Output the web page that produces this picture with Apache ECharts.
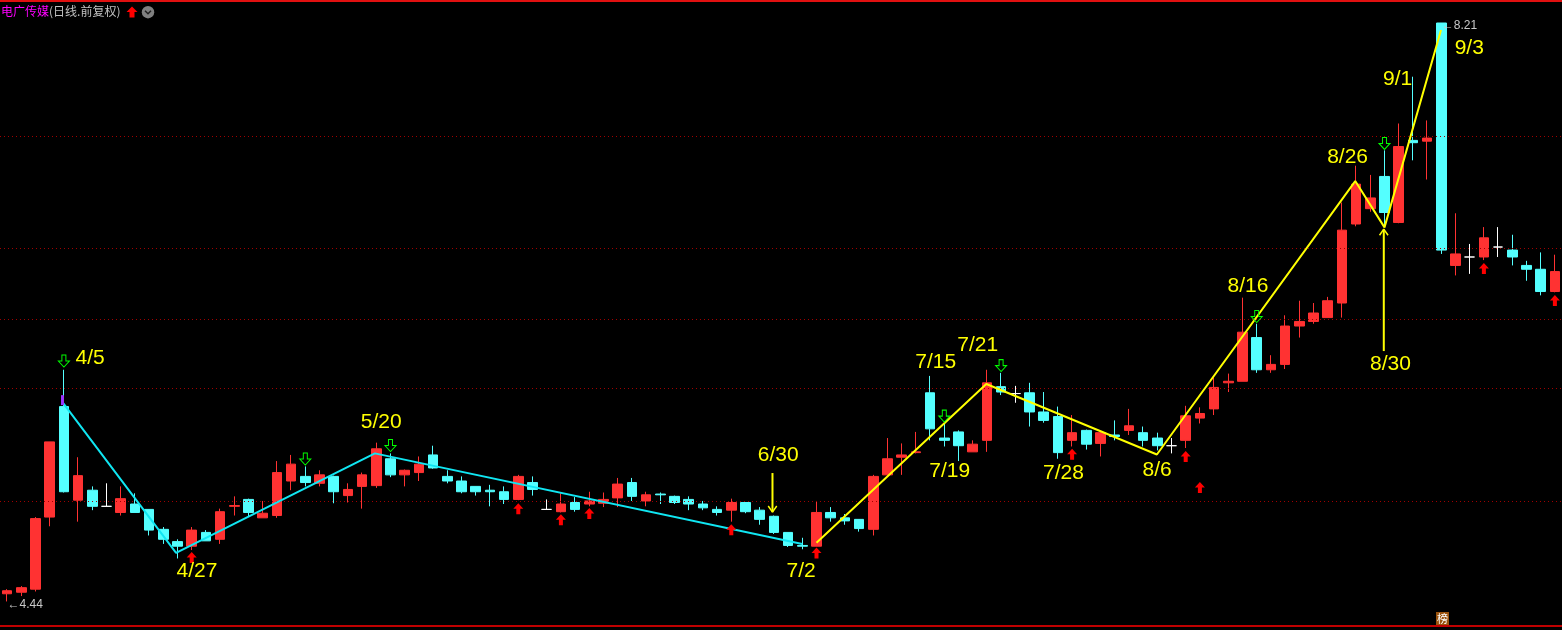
<!DOCTYPE html>
<html><head><meta charset="utf-8">
<script src="https://cdn.jsdelivr.net/npm/echarts@6/dist/echarts.min.js"></script>
<style>html,body{margin:0;padding:0;background:#000;overflow:hidden}#c{width:1562px;height:630px}</style>
</head><body><div id="c"></div>
<script>
// ---- data ----
const categories = ['04-09','04-12','04-13','04-14','04-15','04-16','04-19','04-20','04-21','04-22','04-23','04-26','04-27','04-28','04-29','04-30',
'05-06','05-07','05-10','05-11','05-12','05-13','05-14','05-17','05-18','05-19','05-20','05-21','05-24','05-25','05-26','05-27','05-28','05-31',
'06-01','06-02','06-03','06-04','06-07','06-08','06-09','06-10','06-11','06-15','06-16','06-17','06-18','06-21','06-22','06-23','06-24','06-25','06-28','06-29','06-30',
'07-01','07-02','07-05','07-06','07-07','07-08','07-09','07-12','07-13','07-14','07-15','07-16','07-19','07-20','07-21','07-22','07-23','07-26','07-27','07-28','07-29','07-30',
'08-02','08-03','08-04','08-05','08-06','08-09','08-10','08-11','08-12','08-13','08-16','08-17','08-18','08-19','08-20','08-23','08-24','08-25','08-26','08-27','08-30','08-31',
'09-01','09-02','09-03','09-06','09-07','09-08','09-09','09-10','09-13','09-14','09-15'];

const openP = [4.49,4.50,4.52,4.99,5.71,5.10,5.165,5.06,5.02,5.075,5.04,4.91,4.83,4.80,4.89,4.845,5.06,5.105,4.985,5.00,
5.225,5.255,5.21,5.255,5.13,5.19,5.195,5.37,5.265,5.28,5.395,5.255,5.225,5.19,5.165,5.155,5.105,5.215,5.04,5.025,
5.085,5.075,5.08,5.115,5.215,5.095,5.14,5.125,5.105,5.075,5.04,5.035,5.085,5.035,4.995,4.89,4.805,4.80,5.02,4.985,
4.975,4.91,5.265,5.38,5.41,5.80,5.505,5.545,5.415,5.49,5.84,5.795,5.80,5.675,5.645,5.49,5.555,5.47,5.525,5.555,
5.54,5.505,5.455,5.49,5.635,5.695,5.865,5.875,6.16,5.95,5.985,6.235,6.265,6.29,6.385,6.90,7.00,7.21,6.91,7.445,
7.44,8.21,6.63,6.685,6.685,6.75,6.73,6.63,6.605,6.46];
const closeP = [4.51,4.53,4.98,5.48,5.155,5.26,5.06,5.06,5.11,5.02,4.905,4.845,4.80,4.905,4.835,5.025,5.065,5.02,5.015,5.28,
5.335,5.215,5.265,5.155,5.17,5.265,5.435,5.265,5.295,5.335,5.31,5.225,5.155,5.155,5.155,5.105,5.255,5.17,5.04,5.075,
5.04,5.095,5.105,5.205,5.125,5.135,5.135,5.085,5.075,5.05,5.02,5.085,5.025,4.975,4.89,4.805,4.80,5.02,4.985,4.965,
4.915,5.255,5.37,5.395,5.415,5.565,5.49,5.455,5.465,5.865,5.805,5.795,5.675,5.62,5.41,5.54,5.465,5.54,5.515,5.585,
5.49,5.455,5.455,5.65,5.665,5.835,5.875,6.195,5.95,5.985,6.235,6.265,6.32,6.40,6.86,7.16,7.07,6.975,7.405,7.43,
7.46,6.73,6.705,6.685,6.81,6.75,6.685,6.605,6.46,6.59];
const lowP = [4.44,4.475,4.505,4.93,5.15,4.96,5.035,5.06,5.00,5.02,4.87,4.815,4.72,4.775,4.835,4.815,5.00,4.99,4.985,4.985,
5.165,5.19,5.19,5.08,5.085,5.045,5.18,5.25,5.19,5.225,5.305,5.21,5.145,5.13,5.06,5.075,5.10,5.13,5.04,5.02,
5.025,5.06,5.055,5.055,5.095,5.06,5.075,5.075,5.035,5.035,5.00,4.96,5.015,4.94,4.88,4.795,4.78,4.80,4.96,4.94,
4.895,4.87,5.26,5.265,5.405,5.49,5.45,5.355,5.415,5.415,5.785,5.735,5.58,5.605,5.37,5.45,5.43,5.385,5.49,5.525,
5.45,5.425,5.405,5.44,5.60,5.655,5.805,5.875,5.93,5.93,5.955,6.16,6.25,6.29,6.29,6.885,6.98,6.88,6.905,7.315,
7.19,6.705,6.565,6.575,6.665,6.685,6.63,6.53,6.435,6.455];
const highP = [4.52,4.54,4.99,5.48,5.95,5.38,5.19,5.21,5.19,5.145,5.04,4.925,4.845,4.925,4.905,5.045,5.125,5.11,5.095,5.355,
5.395,5.32,5.295,5.26,5.21,5.28,5.475,5.405,5.30,5.385,5.455,5.295,5.255,5.19,5.20,5.19,5.265,5.255,5.105,5.145,
5.12,5.155,5.15,5.245,5.245,5.155,5.15,5.13,5.125,5.095,5.06,5.11,5.085,5.055,5.00,4.89,4.855,5.095,5.055,5.01,
4.975,5.265,5.505,5.47,5.545,5.91,5.60,5.555,5.49,5.95,5.93,5.845,5.865,5.805,5.71,5.655,5.56,5.545,5.62,5.695,
5.58,5.54,5.505,5.715,5.705,5.90,5.925,6.42,6.25,6.045,6.305,6.40,6.385,6.425,7.04,7.28,7.22,7.38,7.555,7.86,
7.575,8.21,6.97,6.77,6.88,6.88,6.83,6.66,6.715,6.70];

// zigzag lines (bar position, price)
const cyanZigX = [3.95, 11.9, 25.9, 56];
const cyanZigY = [5.733, 4.757, 5.405, 4.814];
const yellowZigX = [57, 68.96, 80.97, 94.94, 97.0, 100.98];
const yellowZigY = [4.822, 5.857, 5.398, 7.18, 6.878, 8.164];

// date annotations
const dateText = ['4/5','4/27','5/20','6/30','7/2','7/15','7/19','7/21','7/28','8/6','8/16','8/26','8/30','9/1','9/3'];
const dateX = [5.85, 13.37, 26.35, 54.3, 55.92, 65.4, 66.38, 68.35, 74.39, 80.99, 87.38, 94.4, 97.42, 97.92, 102.97];
const dateY = [6.026, 4.638, 5.609, 5.394, 4.638, 6.0, 5.29, 6.111, 5.277, 5.296, 6.496, 7.337, 5.987, 7.845, 8.047];

// signal arrows
const greenArrowX = [4, 21, 27, 66, 70, 88, 97];
const greenArrowY = [6.007, 5.368, 5.456, 5.648, 5.977, 6.297, 7.425];
const redArrowX = [13, 36, 39, 41, 51, 57, 75, 83, 84, 104, 109];
const redArrowY = [4.726, 5.045, 4.973, 5.013, 4.908, 4.755, 5.40, 5.384, 5.182, 6.610, 6.401];

// yellow pointer arrows
const pointer630 = {x: 53.9, top: 5.277, bottom: 5.022};
const pointer830 = {x: 96.95, top: 6.867, bottom: 6.072};

// dotted horizontal price lines
const gridPrices = [7.467, 6.737, 6.28, 5.831, 5.094];

// ---- chart ----
const chart = echarts.init(document.getElementById('c'));
const candleData = categories.map((c, i) => {
  const v = [openP[i], closeP[i], lowP[i], highP[i]];
  if (openP[i] === closeP[i]) {
    return {value: v, itemStyle: {color: '#ffffff', color0: '#ffffff', borderColor: '#ffffff', borderColor0: '#ffffff'}};
  }
  return v;
});
const zip = (xs, ys) => xs.map((x, i) => [x, ys[i]]);
let hiIdx = 0, loIdx = 0;
highP.forEach((v, i) => { if (v > highP[hiIdx]) hiIdx = i; });
lowP.forEach((v, i) => { if (v < lowP[loIdx]) loIdx = i; });

const yellow = '#ffff00';
const headW = 0.3, headH = 0.04;
function pointerSeries(p, up) {
  const head = up
    ? [[p.x - headW, p.top - headH], [p.x, p.top], [p.x + headW, p.top - headH]]
    : [[p.x - headW, p.bottom + headH], [p.x, p.bottom], [p.x + headW, p.bottom + headH]];
  return [
    {type: 'line', xAxisIndex: 1, data: [[p.x, p.top], [p.x, p.bottom]], symbol: 'none', lineStyle: {color: yellow, width: 2}, z: 6, silent: true},
    {type: 'line', xAxisIndex: 1, data: head, symbol: 'none', lineStyle: {color: yellow, width: 1.5}, z: 6, silent: true}
  ];
}

const option = {
  backgroundColor: '#000',
  animation: false,
  grid: {left: -2.4, right: -2.0, top: 0, bottom: 4},
  xAxis: [
    {type: 'category', data: categories, show: false, boundaryGap: true},
    {type: 'value', min: -0.5, max: 109.5, show: false}
  ],
  yAxis: {type: 'value', min: 4.28, max: 8.36, show: false, scale: true},
  series: [
    {type: 'line', xAxisIndex: 1, data: [], z: 1, silent: true,
     markLine: {silent: true, symbol: ['none', 'none'], label: {show: false},
       lineStyle: {color: '#a00000', type: [1, 3], width: 1},
       data: gridPrices.map(v => ({yAxis: v}))}},
    {type: 'candlestick', xAxisIndex: 0, data: candleData, barWidth: 10, z: 3,
     itemStyle: {color: '#ff3232', color0: '#54ffff', borderColor: '#ff3232', borderColor0: '#54ffff', borderWidth: 1}},
    {type: 'line', xAxisIndex: 1, data: zip(cyanZigX, cyanZigY), symbol: 'none', z: 5,
     lineStyle: {color: '#10e6f2', width: 2}},
    {type: 'line', xAxisIndex: 1, data: zip(yellowZigX, yellowZigY), symbol: 'none', z: 5,
     lineStyle: {color: yellow, width: 2}},
    ...pointerSeries(pointer630, false),
    ...pointerSeries(pointer830, true),
    {type: 'scatter', xAxisIndex: 1, data: zip(greenArrowX, greenArrowY), z: 7,
     symbol: 'path://M3.5 0L7.5 0L7.5 6L11 6L5.5 12L0 6L3.5 6Z', symbolSize: [11, 12],
     itemStyle: {color: 'rgba(0,0,0,0)', borderColor: '#00ff00', borderWidth: 1, opacity: 1}},
    {type: 'scatter', xAxisIndex: 1, data: zip(redArrowX, redArrowY), z: 7,
     symbol: 'path://M5 0L10 5.5L7 5.5L7 11L3 11L3 5.5L0 5.5Z', symbolSize: [10, 11],
     itemStyle: {color: '#ff0000', opacity: 1}},
    {type: 'scatter', xAxisIndex: 1, data: [[3.9, 5.752]], symbol: 'rect', symbolSize: [3, 10], z: 6,
     itemStyle: {color: '#9a35ff', opacity: 1}},
    {type: 'scatter', xAxisIndex: 1, data: dateText.map((t, i) => [dateX[i], dateY[i], t]),
     symbolSize: 1, itemStyle: {color: 'rgba(0,0,0,0)', opacity: 1}, z: 8,
     label: {show: true, position: 'inside', formatter: p => p.value[2], color: yellow,
       textBorderWidth: 0, opacity: 1,
       fontSize: 21, fontFamily: 'Liberation Sans, Arial, sans-serif'}},
    {type: 'scatter', xAxisIndex: 1, data: [[hiIdx, highP[hiIdx]], [loIdx, lowP[loIdx]]],
     symbolSize: 1, itemStyle: {color: 'rgba(0,0,0,0)', opacity: 1}, z: 8,
     label: {show: true, position: 'right', distance: 0, offset: [0, 3],
       formatter: p => '\u2190' + p.value[1].toFixed(2), color: '#c8c8c8', opacity: 1,
       fontSize: 12, fontFamily: 'Liberation Sans, Arial, sans-serif'}}
  ],
  graphic: [
    {type: 'rect', shape: {x: 0, y: 0, width: 1562, height: 2}, style: {fill: '#e01010'}, z: 100},
    {type: 'rect', shape: {x: 0, y: 625, width: 1562, height: 2}, style: {fill: '#c00000'}, z: 100},
    {type: 'text', left: 1, top: 5, z: 100, style: {text: '电广传媒', fill: '#ff00ff', font: '12px "Noto Sans CJK SC"'}},
    {type: 'text', left: 49, top: 5, z: 100, style: {text: '(日线.前复权)', fill: '#c0c0c0', font: '12px "Noto Sans CJK SC"'}},
    {type: 'polygon', z: 100, shape: {points: [[132, 6.5], [137.5, 12], [134.5, 12], [134.5, 17.5], [129.5, 17.5], [129.5, 12], [126.5, 12]]}, style: {fill: '#ff0000'}},
    {type: 'circle', z: 100, shape: {cx: 148, cy: 12.2, r: 6.2}, style: {fill: '#808080'}},
    {type: 'polyline', z: 101, shape: {points: [[145, 10.8], [148, 13.8], [151, 10.8]]}, style: {stroke: '#202020', lineWidth: 1.5, fill: null}},
    {type: 'rect', z: 100, shape: {x: 1436, y: 612, width: 13, height: 13}, style: {fill: '#9a520c'}},
    {type: 'text', z: 101, x: 1442.5, y: 618.5, style: {text: '榜', fill: '#ffffff', font: '11px "Noto Sans CJK SC"', align: 'center', verticalAlign: 'middle'}}
  ]
};
chart.setOption(option);
</script>
</body></html>
